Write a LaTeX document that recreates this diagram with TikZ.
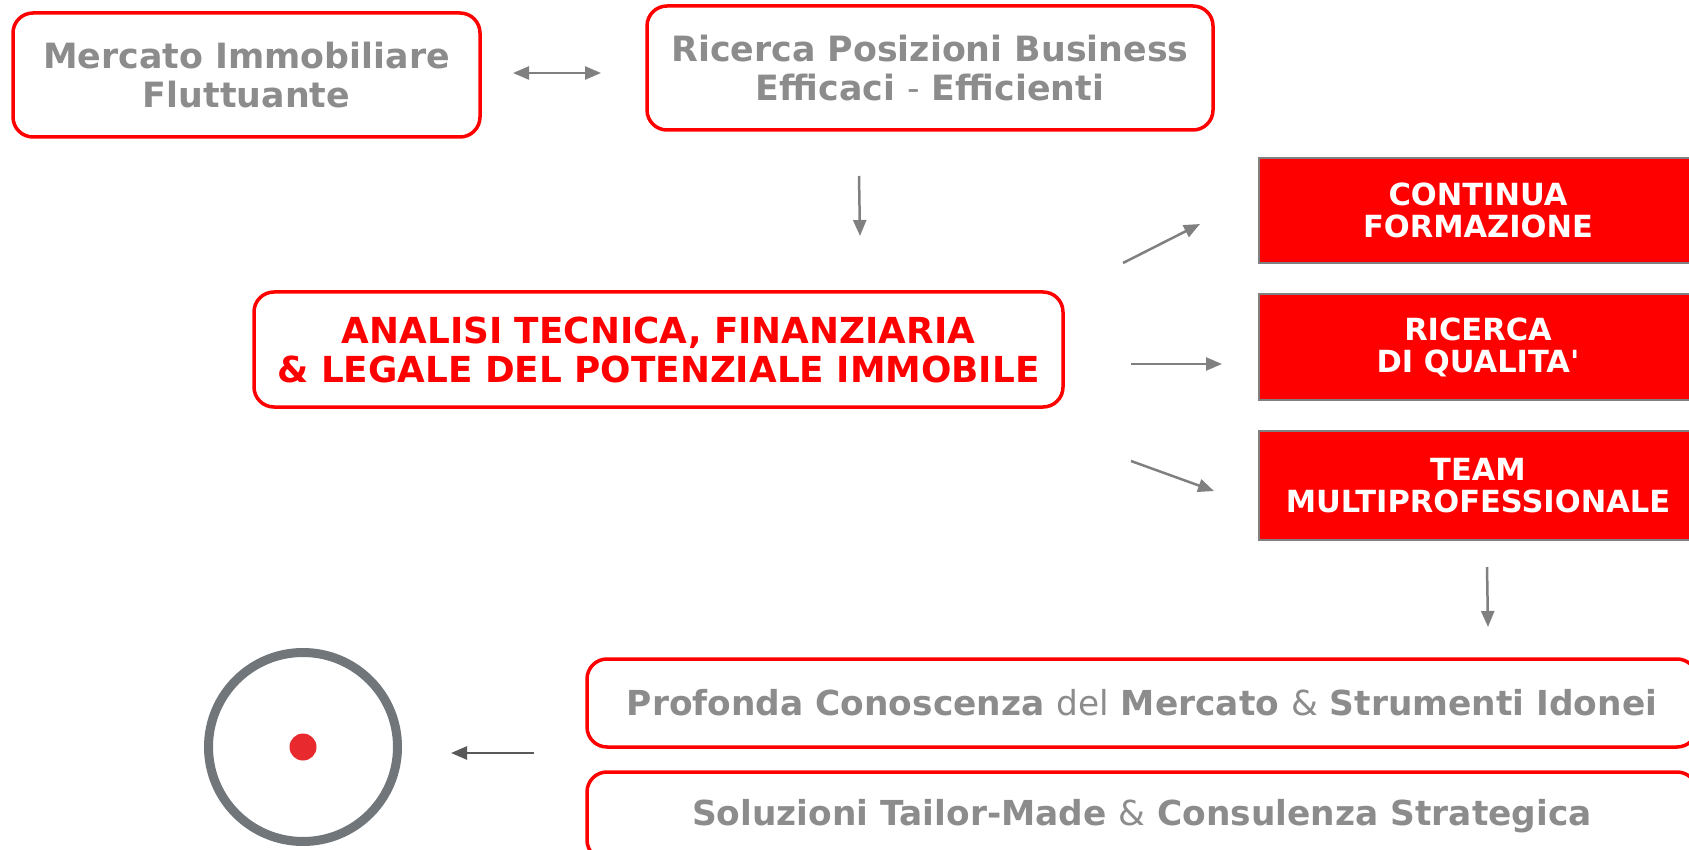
\documentclass[tikz,border=0pt]{standalone}
\usepackage{fontspec}
\setmainfont{DejaVu Sans}[Ligatures=TeXOff]
\usetikzlibrary{arrows.meta}
\definecolor{txtgray}{HTML}{8C8C8C}
\definecolor{arrgray}{HTML}{808080}
\definecolor{darkarr}{HTML}{595959}
\definecolor{ringgray}{HTML}{70767A}
\definecolor{dotred}{HTML}{E8292D}
\definecolor{boxred}{HTML}{FF0000}
\tikzset{
  outbox/.style={draw=boxred, line width=3.5pt, rounded corners=20pt, fill=white, align=center, inner sep=0pt, text=txtgray, font=\fontsize{34.8}{39}\selectfont\bfseries},
  redbox/.style={draw=arrgray, line width=2pt, fill=boxred, align=center, inner sep=0pt, text=white, font=\fontsize{30.5}{32}\selectfont\bfseries},
  conn/.style={draw=arrgray, line width=2.5pt, -{Triangle[length=16pt,width=13pt]}},
}
\begin{document}
\begin{tikzpicture}[x=1pt,y=-1pt]
\useasboundingbox (0,0) rectangle (1689,850);
\node[outbox, minimum width=467pt, minimum height=124pt] (b1) at (246.5,75) {Mercato Immobiliare\\Fluttuante};
\node[outbox, minimum width=566pt, minimum height=124pt] (b2) at (930,68) {Ricerca Posizioni Business\\Efficaci {\mdseries-} Efficienti};
\node[outbox, text=boxred, minimum width=809pt, minimum height=115pt, font=\fontsize{35.8}{39}\selectfont\bfseries] (b3) at (658.5,349.5) {ANALISI TECNICA, FINANZIARIA\\\& LEGALE DEL POTENZIALE IMMOBILE};
\node[redbox, minimum width=438pt, minimum height=105pt] (ra) at (1478,210.5) {CONTINUA\\FORMAZIONE};
\node[redbox, minimum width=438pt, minimum height=106pt] (rb) at (1478,347) {RICERCA\\DI QUALITA'};
\node[redbox, minimum width=438pt, minimum height=109pt] (rc) at (1478,485.5) {TEAM\\MULTIPROFESSIONALE};
\node[outbox, minimum width=1110pt, minimum height=88pt, font=\fontsize{34.4}{39}\selectfont\bfseries] (bd) at (1142,703) {Profonda Conoscenza {\mdseries del} Mercato {\mdseries\&} Strumenti Idonei};
\node[outbox, minimum width=1110pt, minimum height=88pt, font=\fontsize{34.4}{39}\selectfont\bfseries] (be) at (1142,816) {Soluzioni Tailor-Made {\mdseries\&} Consulenza Strategica};
\node[circle, draw=ringgray, line width=9pt, minimum size=189pt, inner sep=0pt] (ring) at (303,747) {};
\node[circle, fill=dotred, minimum size=27pt, inner sep=0pt] (dot) at (ring.center) {};
% arrow end points
\coordinate (d1) at (513,73); \coordinate (d2) at (601,73);
\coordinate (v1) at (859,176); \coordinate (v2) at (860,236);
\coordinate (u1) at (1123,263); \coordinate (u2) at (1200,224);
\coordinate (h1) at (1131,364); \coordinate (h2) at (1222,364);
\coordinate (s1) at (1131,461); \coordinate (s2) at (1214,491);
\coordinate (w1) at (1487,567); \coordinate (w2) at (1488,627);
\coordinate (l1) at (534,753); \coordinate (l2) at (451,753);
\draw[conn, {Triangle[length=16pt,width=13pt]}-{Triangle[length=16pt,width=13pt]}] (d1) -- (d2);
\draw[conn] (v1) -- (v2);
\draw[conn] (u1) -- (u2);
\draw[conn] (h1) -- (h2);
\draw[conn] (s1) -- (s2);
\draw[conn] (w1) -- (w2);
\draw[conn, draw=darkarr] (l1) -- (l2);
\end{tikzpicture}
\end{document}
